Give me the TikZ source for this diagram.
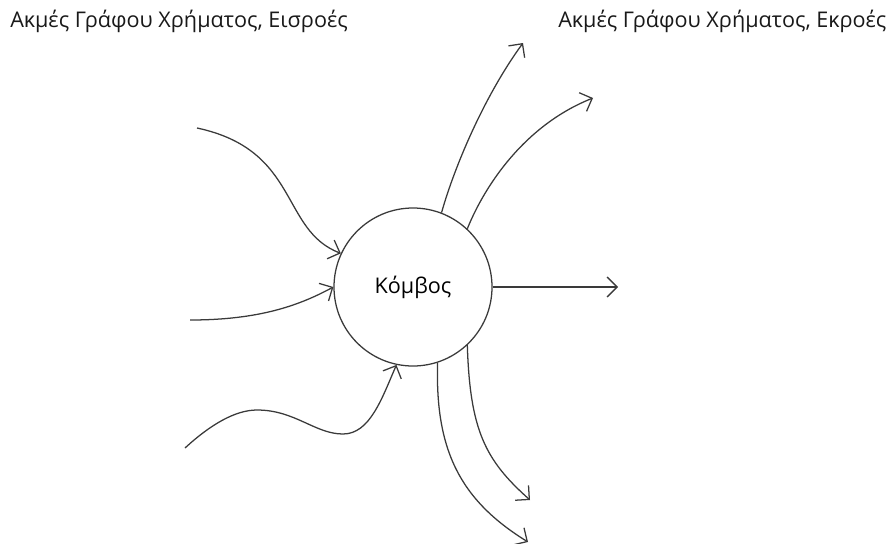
\documentclass[tikz,border=0pt]{standalone}
\usepackage{fontspec}
\setmainfont{Open Sans}
\usetikzlibrary{arrows.meta}
\definecolor{ink}{HTML}{3A3A3A}
\tikzset{
  flow/.style={draw=ink, line width=0.95pt, -{Straight Barb[length=7.5pt,width=15pt,line width=0.95pt]}},
  hub/.style={circle, draw=ink, line width=0.95pt, minimum size=118.5pt, inner sep=0pt, font=\fontsize{16.2}{19}\selectfont},
  heading/.style={anchor=base west, inner sep=0pt, text=black!90, font=\fontsize{16.2}{19}\selectfont},
}
\begin{document}
\begin{tikzpicture}[x=0.75pt, y=-0.75pt]
\useasboundingbox (0,0) rectangle (891,543);

% headings
\node[heading] (hin) at (10,27) {Ακμές Γράφου Χρήματος, Εισροές};
\node[heading] (hout) at (558,27) {Ακμές Γράφου Χρήματος, Εκροές};

% central node
\node[hub] (k) at (413,287) {Κόμβος};

% free ends of the incoming edges
\coordinate (i1) at (197,128);
\coordinate (i2) at (190,320);
\coordinate (i3) at (185,448);

% free ends of the outgoing edges
\coordinate (o1) at (523,43);
\coordinate (o2) at (593,98);
\coordinate (o3) at (618,287);
\coordinate (o4) at (530,500);
\coordinate (o5) at (528,542);

% incoming edges
\draw[flow] (i1) .. controls (300,150) and (280,230) .. (k.155);
\draw[flow] (i2) .. controls (260,320) and (300,305) .. (k.180);
\draw[flow] (i3) .. controls (210,425) and (235,410) .. (257,410)
                 .. controls (295,410) and (315,434) .. (343,434)
                 .. controls (370,434) and (382,398) .. (k.258);

% outgoing edges
\draw[flow] (k.69) .. controls (455,165) and (485,95) .. (o1);
\draw[flow] (k.47) .. controls (485,185) and (525,125) .. (o2);
\draw[flow] (k.0) -- (o3);
\draw[flow] (k.-47) .. controls (470,430) and (485,460) .. (o4);
\draw[flow] (k.-72.5) .. controls (435,450) and (460,500) .. (o5);
\end{tikzpicture}
\end{document}
